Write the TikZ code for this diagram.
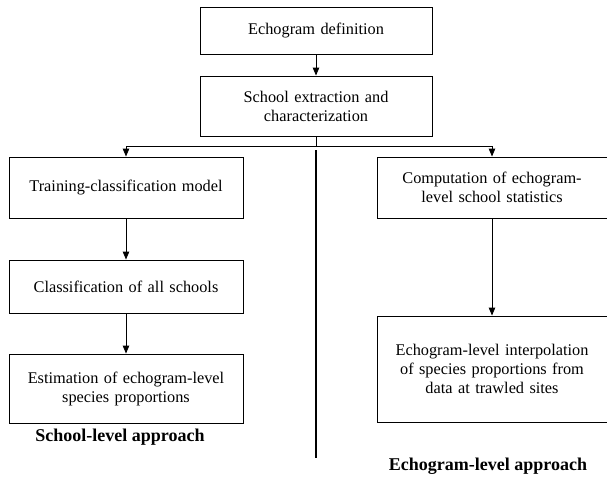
\documentclass[tikz,border=0pt]{standalone}
\usepackage{fontspec}
\setmainfont{Liberation Serif}
\usepackage{tikz}
\usetikzlibrary{shapes,arrows,arrows.meta,positioning}

\begin{document}
\begin{tikzpicture}[x=1pt, y=-1pt, node distance=100pt, auto]
    \tikzstyle{stage} = [rectangle, draw, line width=0.9pt, text width=224pt, align=center, inner sep=0pt, font=\fontsize{16.3}{19}\selectfont]
    \tikzstyle{heading} = [font=\fontsize{18}{21}\selectfont\bfseries]
    \tikzstyle{arrow} = [line width=0.9pt, ->, >={Triangle[length=8pt,width=6.5pt]}]
    \useasboundingbox (0,0) rectangle (607,477);

    % Common steps - Top
    \node [stage, minimum width=232pt, minimum height=47pt] (echodef) at (316,30.5) {Echogram definition};
    \node [stage, minimum width=232pt, minimum height=60pt, below of=echodef, node distance=75.5pt] (extract) {School extraction and\\characterization};

    % School-level approach - Left
    \node [stage, minimum width=234pt, minimum height=61pt] (train) at (126,187.5) {Training-classification model};
    \node [stage, minimum width=234pt, minimum height=53pt, below of=train, node distance=99pt] (classify) {Classification of all schools};
    \node [stage, minimum width=234pt, minimum height=69pt, below of=classify, node distance=102pt] (estimate) {Estimation of echogram-level\\species proportions};

    % Echogram-level approach - Right
    \node [stage, minimum width=230pt, minimum height=61pt] (stats) at (492,187.5) {Computation of echogram-\\level school statistics};
    \node [stage, minimum width=230pt, minimum height=106pt, below of=stats, node distance=181.5pt] (interp) {Echogram-level interpolation\\of species proportions from\\data at trawled sites};

    % Headings
    \node [heading] (schoolhead) at (120,437) {School-level approach};
    \node [heading] (echohead) at (488,466) {Echogram-level approach};

    % Divider
    \coordinate (divtop) at (316,150);
    \coordinate (divbot) at (316,458);
    \draw [line width=2.6pt] (divtop) -- (divbot);

    % Connections
    \draw [arrow] (echodef) -- (extract);
    \draw [line width=0.9pt] (extract.south) -- ++(0,10) coordinate (split);
    \draw [arrow] (split) -| (train.north);
    \draw [arrow] (split) -| (stats.north);
    \draw [arrow] (train) -- (classify);
    \draw [arrow] (classify) -- (estimate);
    \draw [arrow] (stats) -- (interp);
\end{tikzpicture}
\end{document}
